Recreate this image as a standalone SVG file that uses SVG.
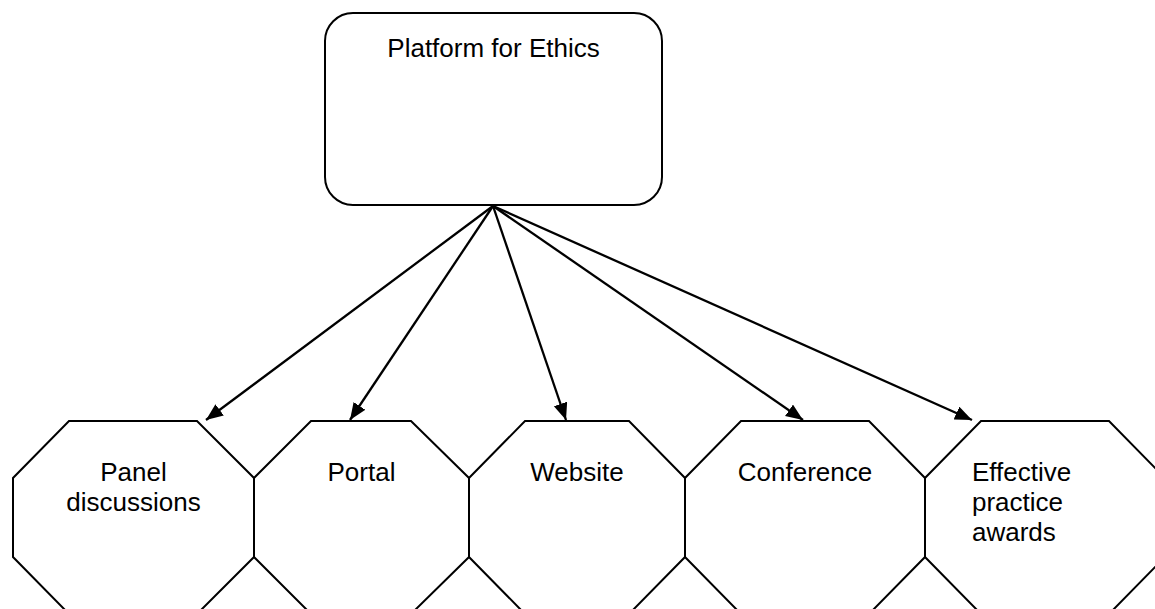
<svg xmlns="http://www.w3.org/2000/svg" width="1155" height="609" viewBox="0 0 1155 609">
  <style>
    .shape { fill: #ffffff; stroke: #000000; stroke-width: 2; }
    .lbl { font-family: "Liberation Sans", Arial, sans-serif; font-size: 26px; fill: #000000; }
    .mid { text-anchor: middle; }
    .conn { stroke: #000000; stroke-width: 2.3; fill: none; marker-end: url(#arrow); }
  </style>
  <defs>
    <marker id="arrow" markerUnits="userSpaceOnUse" markerWidth="18" markerHeight="15" refX="17" refY="7" orient="auto">
      <path d="M0,0 L17,7 L0,14 z" fill="#000000"/>
    </marker>
  </defs>
  <rect width="1155" height="609" fill="#ffffff"/>

  <g id="node-platform">
    <rect class="shape" x="325" y="13" width="337" height="192" rx="28" ry="28"/>
    <text class="lbl mid" x="493.5" y="57">Platform for Ethics</text>
  </g>

  <g id="node-panel">
    <polygon class="shape" points="69,421 197,421 254,478 254,557 197,614 69,614 13,557 13,478"/>
    <text class="lbl mid" x="133.5" y="481">Panel</text>
    <text class="lbl mid" x="133.5" y="511">discussions</text>
  </g>

  <g id="node-portal">
    <polygon class="shape" points="311,421 411,421 469,478 469,557 411,614 311,614 254,557 254,478"/>
    <text class="lbl mid" x="361.5" y="481">Portal</text>
  </g>

  <g id="node-website">
    <polygon class="shape" points="525,421 629,421 685,478 685,557 629,614 525,614 469,557 469,478"/>
    <text class="lbl mid" x="577" y="481">Website</text>
  </g>

  <g id="node-conference">
    <polygon class="shape" points="741,421 869,421 925,478 925,557 869,614 741,614 685,557 685,478"/>
    <text class="lbl mid" x="805" y="481">Conference</text>
  </g>

  <g id="node-awards">
    <polygon class="shape" points="981,421 1109,421 1165,478 1165,557 1109,614 981,614 925,557 925,478"/>
    <text class="lbl" x="972" y="481">Effective</text>
    <text class="lbl" x="972" y="511">practice</text>
    <text class="lbl" x="972" y="541">awards</text>
  </g>

  <g id="connectors">
    <line class="conn" x1="493" y1="206" x2="206" y2="420"/>
    <line class="conn" x1="493" y1="206" x2="350" y2="420"/>
    <line class="conn" x1="493" y1="206" x2="566" y2="420"/>
    <line class="conn" x1="493" y1="206" x2="803" y2="420"/>
    <line class="conn" x1="493" y1="206" x2="972" y2="420"/>
  </g>
</svg>
